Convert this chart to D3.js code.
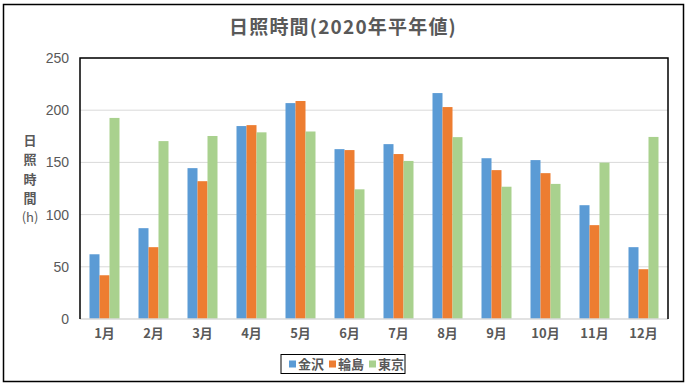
<!DOCTYPE html>
<html>
<head>
<meta charset="utf-8">
<script src="https://cdn.jsdelivr.net/npm/d3@7"></script>
<style>
  html, body { margin: 0; padding: 0; background: #fff; }
  svg { display: block; }
  text { font-family: "Noto Sans CJK JP", "Noto Sans", sans-serif; fill: #595959; }
</style>
</head>
<body>
<svg id="chart" width="687" height="387"></svg>
<script>
const months = ["1月","2月","3月","4月","5月","6月","7月","8月","9月","10月","11月","12月"];
const seriesNames = ["金沢","輪島","東京"];
const kanazawa = [62.0, 87.0, 144.5, 184.8, 206.8, 162.7, 167.5, 216.4, 154.0, 152.2, 109.0, 68.8];
const wajima   = [41.9, 68.8, 132.0, 185.7, 208.8, 161.8, 158.0, 203.0, 142.6, 139.7, 89.9, 47.7];
const tokyo    = [192.6, 170.4, 175.3, 178.8, 179.6, 124.2, 151.4, 174.2, 126.7, 129.4, 149.8, 174.4];
const yTicks = [0, 50, 100, 150, 200, 250];
const colors = ["#5B9BD5", "#ED7D31", "#A9D18E"];
const titleText = "日照時間(2020年平年値)";
const yTitleChars = ["日","照","時","間","(h)"];

const seriesValues = [kanazawa, wajima, tokyo];
const svg = d3.select("#chart");

// outer border
svg.append("rect").attr("x", 3.5).attr("y", 4.5).attr("width", 680).attr("height", 377)
  .attr("fill", "#fff").attr("stroke", "#000").attr("stroke-width", 1.5);

const pLeft = 80, pRight = 668, pTop = 58, pBottom = 319;

const x0 = d3.scaleBand().domain(months).range([pLeft, pRight])
  .paddingInner(19/49).paddingOuter(19/98);
const x1 = d3.scaleBand().domain(seriesNames).range([0, x0.bandwidth()]);
const y = d3.scaleLinear().domain([0, 250]).range([pBottom, pTop]);

// gridlines
svg.append("g").selectAll("line").data(yTicks.filter(d => d > 0)).join("line")
  .attr("x1", pLeft).attr("x2", pRight)
  .attr("y1", d => y(d)).attr("y2", d => y(d))
  .attr("stroke", "#D9D9D9").attr("stroke-width", 1);

// bars
const groups = svg.append("g").selectAll("g").data(months).join("g")
  .attr("transform", d => `translate(${x0(d)},0)`);
groups.selectAll("rect").data((m, i) => seriesNames.map((s, j) => ({s, v: seriesValues[j][i], j})))
  .join("rect")
  .attr("x", d => x1(d.s)).attr("width", x1.bandwidth())
  .attr("y", d => y(d.v)).attr("height", d => y(0) - y(d.v))
  .attr("fill", d => colors[d.j]);

// bottom axis line
svg.append("line").attr("x1", pLeft).attr("x2", pRight).attr("y1", y(0)).attr("y2", y(0))
  .attr("stroke", "#D9D9D9").attr("stroke-width", 1.3);

// plot area border (top, left, right)
svg.append("path")
  .attr("d", `M${pLeft},${pBottom} L${pLeft},${pTop} L${pRight},${pTop} L${pRight},${pBottom}`)
  .attr("fill", "none").attr("stroke", "#000").attr("stroke-width", 1.5);

// y axis
const yAxis = d3.axisLeft(y).tickValues(yTicks).tickSize(0).tickPadding(11);
const gy = svg.append("g").attr("transform", `translate(${pLeft},0)`).call(yAxis);
gy.select(".domain").remove();
gy.selectAll("text").style("font-size", "14px").style("fill", "#595959")
  .style("font-family", "'Liberation Sans', Arial, sans-serif");

// x axis
const xAxis = d3.axisBottom(x0).tickSize(0).tickPadding(10);
const gx = svg.append("g").attr("transform", `translate(0,${pBottom})`).call(xAxis);
gx.select(".domain").remove();
gx.selectAll("text").style("font-size", "13px").style("font-weight", "bold").style("fill", "#595959")
  .style("font-family", "'Noto Sans CJK JP', sans-serif");

// title
svg.append("text").attr("x", 343).attr("y", 34).attr("text-anchor", "middle")
  .style("font-size", "19px").style("font-weight", "bold").style("letter-spacing", "1.2px")
  .text(titleText);

// y title
svg.append("g").selectAll("text").data(yTitleChars).join("text")
  .attr("x", 30).attr("y", (d, i) => 145 + i * 19.3).attr("text-anchor", "middle")
  .style("font-size", "13px").style("font-weight", (d, i) => i < 4 ? "bold" : "normal").text(d => d);

// legend
const legend = svg.append("g");
legend.append("rect").attr("x", 281).attr("y", 354.5).attr("width", 124).attr("height", 19)
  .attr("fill", "#fff").attr("stroke", "#000").attr("stroke-width", 1);
const legX = [289, 329, 369];
const li = legend.selectAll("g.item").data(seriesNames).join("g").attr("class", "item")
  .attr("transform", (d, i) => `translate(${legX[i]},364)`);
li.append("rect").attr("x", 0).attr("y", -3.5).attr("width", 7).attr("height", 7)
  .attr("fill", (d, i) => colors[i]);
li.append("text").attr("x", 9).attr("y", 5).style("font-size", "13px").style("font-weight", "bold")
  .text(d => d);
</script>
</body>
</html>
